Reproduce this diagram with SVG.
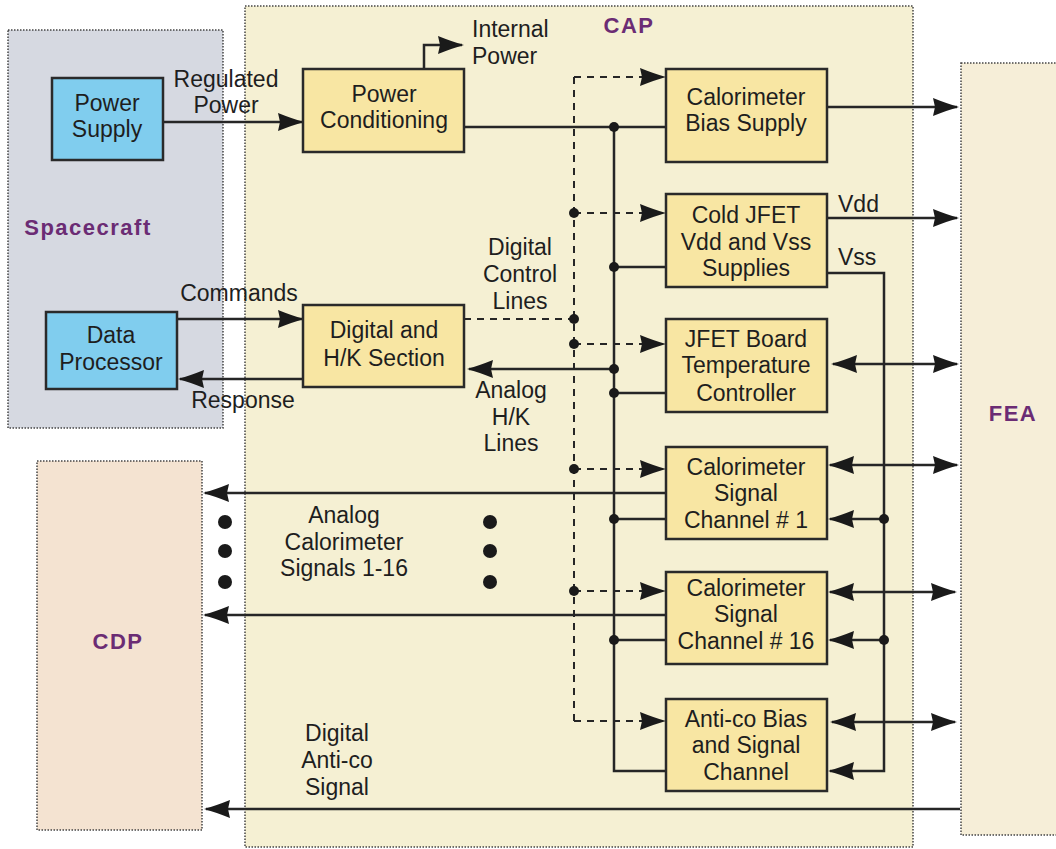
<svg xmlns="http://www.w3.org/2000/svg" width="1056" height="849" viewBox="0 0 1056 849">
<style>
.t{font-family:"Liberation Sans",Arial,sans-serif;font-size:23px;fill:#1e1e1e;text-anchor:middle}
.tl{text-anchor:start}
.lb{font-family:"Liberation Sans",Arial,sans-serif;font-size:22px;font-weight:bold;fill:#6b2c74;text-anchor:middle;letter-spacing:1.5px}
.reg{stroke:#444;stroke-width:1.5;stroke-dasharray:1.5 1.5}
.box{fill:#f8e6a3;stroke:#2a2a2a;stroke-width:2.5}
.bb{fill:#80cdee;stroke:#2a2a2a;stroke-width:2.5}
.c{fill:none;stroke:#262626;stroke-width:2.5}
.d{fill:none;stroke:#262626;stroke-width:2;stroke-dasharray:7 6}
.a{marker-end:url(#ah)}
.ab{marker-start:url(#ah);marker-end:url(#ah)}
.dot{fill:#1a1a1a}
</style>
<defs>
<marker id="ah" viewBox="-26 -10 29 20" refX="0" refY="0" markerWidth="29" markerHeight="20" markerUnits="userSpaceOnUse" orient="auto-start-reverse">
<path d="M2,0 Q-9,-3 -24,-9 L-22,0 L-24,9 Q-9,3 2,0 Z" fill="#1a1a1a"/>
</marker>
</defs>
<rect width="1056" height="849" fill="#ffffff"/>

<g id="cap-region">
<rect class="reg" x="245" y="6" width="668" height="841" fill="#f5f0d3"/>
<text class="lb" x="629" y="33">CAP</text>
</g>
<g id="spacecraft-region">
<rect class="reg" x="8" y="30" width="215" height="398" fill="#d6d9e1"/>
<text class="lb" x="88" y="235">Spacecraft</text>
</g>
<g id="fea-region">
<rect class="reg" x="961" y="63" width="100" height="772" fill="#f6eed8"/>
<text class="lb" x="1013" y="421">FEA</text>
</g>
<g id="cdp-region">
<rect class="reg" x="37" y="461" width="165" height="369" fill="#f4e3d1"/>
<text class="lb" x="118" y="649">CDP</text>
</g>

<g id="connectors">
<line class="c a" x1="163" y1="122" x2="302" y2="122"/>
<polyline class="c a" points="424,69 424,45 462,45"/>
<line class="c" x1="464" y1="127" x2="666" y2="127"/>
<polyline class="c" points="614,127 614,771 666,771"/>
<polyline class="d" points="574,77 574,721"/>
<line class="d a" x1="574" y1="77" x2="664" y2="77"/>
<line class="d a" x1="574" y1="213" x2="664" y2="213"/>
<line class="d" x1="464" y1="319" x2="574" y2="319"/>
<line class="d a" x1="574" y1="344" x2="664" y2="344"/>
<line class="d a" x1="574" y1="469" x2="664" y2="469"/>
<line class="d a" x1="574" y1="591" x2="664" y2="591"/>
<line class="d a" x1="574" y1="721" x2="664" y2="721"/>
<line class="c a" x1="827" y1="107" x2="957" y2="107"/>
<line class="c a" x1="827" y1="218" x2="957" y2="218"/>
<polyline class="c a" points="827,273 884,273 884,771 830,771"/>
<line class="c" x1="614" y1="267" x2="666" y2="267"/>
<line class="c a" x1="614" y1="369" x2="469" y2="369"/>
<line class="c" x1="614" y1="393" x2="666" y2="393"/>
<line class="c ab" x1="833" y1="364" x2="957" y2="364"/>
<line class="c ab" x1="830" y1="465" x2="957" y2="465"/>
<line class="c ab" x1="830" y1="592" x2="955" y2="592"/>
<line class="c ab" x1="832" y1="722" x2="955" y2="722"/>
<line class="c a" x1="666" y1="493" x2="205" y2="493"/>
<line class="c a" x1="666" y1="615" x2="205" y2="615"/>
<line class="c" x1="614" y1="519" x2="666" y2="519"/>
<line class="c a" x1="884" y1="519" x2="830" y2="519"/>
<line class="c" x1="614" y1="640" x2="666" y2="640"/>
<line class="c a" x1="884" y1="640" x2="830" y2="640"/>
<line class="c a" x1="960" y1="809" x2="206" y2="809"/>
<line class="c a" x1="177" y1="319" x2="302" y2="319"/>
<line class="c a" x1="303" y1="379" x2="180" y2="379"/>
<circle class="dot" cx="614" cy="127" r="5"/>
<circle class="dot" cx="614" cy="267" r="5"/>
<circle class="dot" cx="614" cy="369" r="5"/>
<circle class="dot" cx="614" cy="393" r="5"/>
<circle class="dot" cx="614" cy="519" r="5"/>
<circle class="dot" cx="614" cy="640" r="5"/>
<circle class="dot" cx="574" cy="213" r="5"/>
<circle class="dot" cx="574" cy="319" r="5"/>
<circle class="dot" cx="574" cy="344" r="5"/>
<circle class="dot" cx="574" cy="469" r="5"/>
<circle class="dot" cx="574" cy="591" r="5"/>
<circle class="dot" cx="884" cy="519" r="5"/>
<circle class="dot" cx="884" cy="640" r="5"/>
<circle class="dot" cx="225" cy="522" r="7"/>
<circle class="dot" cx="225" cy="551" r="7"/>
<circle class="dot" cx="225" cy="582" r="7"/>
<circle class="dot" cx="490" cy="522" r="7"/>
<circle class="dot" cx="490" cy="551" r="7"/>
<circle class="dot" cx="490" cy="582" r="7"/>
<text class="t" x="226" y="87">Regulated</text>
<text class="t" x="226" y="113">Power</text>
<text class="t tl" x="472" y="37">Internal</text>
<text class="t tl" x="472" y="64">Power</text>
<text class="t" x="239" y="301">Commands</text>
<text class="t" x="243" y="408">Response</text>
<text class="t" x="520" y="255">Digital</text>
<text class="t" x="520" y="282">Control</text>
<text class="t" x="520" y="309">Lines</text>
<text class="t" x="511" y="398">Analog</text>
<text class="t" x="511" y="425">H/K</text>
<text class="t" x="511" y="451">Lines</text>
<text class="t tl" x="838" y="212">Vdd</text>
<text class="t tl" x="838" y="265">Vss</text>
<text class="t" x="344" y="523">Analog</text>
<text class="t" x="344" y="550">Calorimeter</text>
<text class="t" x="344" y="576">Signals 1-16</text>
<text class="t" x="337" y="741">Digital</text>
<text class="t" x="337" y="768">Anti-co</text>
<text class="t" x="337" y="795">Signal</text>
</g>

<g id="power-supply">
<rect class="bb" x="52" y="78" width="111" height="82"/>
<text class="t" x="107" y="111">Power</text>
<text class="t" x="107" y="137">Supply</text>
</g>
<g id="data-processor">
<rect class="bb" x="46" y="312" width="131" height="77"/>
<text class="t" x="111" y="343">Data</text>
<text class="t" x="111" y="370">Processor</text>
</g>
<g id="power-conditioning">
<rect class="box" x="303" y="69" width="161" height="83"/>
<text class="t" x="384" y="102">Power</text>
<text class="t" x="384" y="128">Conditioning</text>
</g>
<g id="digital-hk">
<rect class="box" x="303" y="305" width="161" height="82"/>
<text class="t" x="384" y="338">Digital and</text>
<text class="t" x="384" y="366">H/K Section</text>
</g>
<g id="cal-bias-supply">
<rect class="box" x="666" y="69" width="161" height="93"/>
<text class="t" x="746" y="105">Calorimeter</text>
<text class="t" x="746" y="131">Bias Supply</text>
</g>
<g id="cold-jfet">
<rect class="box" x="666" y="194" width="161" height="93"/>
<text class="t" x="746" y="223">Cold JFET</text>
<text class="t" x="746" y="250">Vdd and Vss</text>
<text class="t" x="746" y="276">Supplies</text>
</g>
<g id="jfet-board">
<rect class="box" x="666" y="319" width="161" height="93"/>
<text class="t" x="746" y="347">JFET Board</text>
<text class="t" x="746" y="373">Temperature</text>
<text class="t" x="746" y="401">Controller</text>
</g>
<g id="cal-signal-1">
<rect class="box" x="666" y="447" width="161" height="92"/>
<text class="t" x="746" y="475">Calorimeter</text>
<text class="t" x="746" y="501">Signal</text>
<text class="t" x="746" y="528">Channel # 1</text>
</g>
<g id="cal-signal-16">
<rect class="box" x="666" y="572" width="161" height="92"/>
<text class="t" x="746" y="596">Calorimeter</text>
<text class="t" x="746" y="622">Signal</text>
<text class="t" x="746" y="649">Channel # 16</text>
</g>
<g id="anti-co">
<rect class="box" x="666" y="699" width="161" height="92"/>
<text class="t" x="746" y="727">Anti-co Bias</text>
<text class="t" x="746" y="753">and Signal</text>
<text class="t" x="746" y="780">Channel</text>
</g>
</svg>
